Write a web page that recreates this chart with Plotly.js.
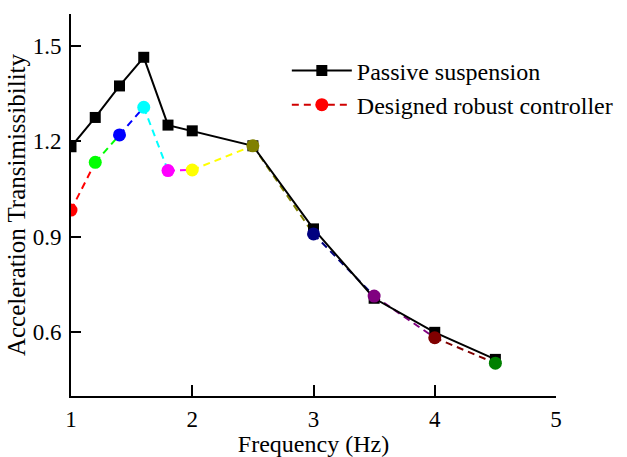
<!DOCTYPE html>
<html>
<head>
<meta charset="utf-8">
<script src="https://cdn.plot.ly/plotly-3.0.1.min.js"></script>
<style>
  html, body { margin: 0; padding: 0; background: #fff; }
  #chart { width: 627px; height: 457px; }
</style>
</head>
<body>
<div id="chart"></div>
<script>
// Excitation frequency (Hz)
const freq = [1, 1.2, 1.4, 1.6, 1.8, 2, 2.5, 3, 3.5, 4, 4.5];
// Acceleration transmissibility of the passive suspension
const passive = [1.183, 1.275, 1.374, 1.464, 1.251, 1.233, 1.186, 0.925, 0.707, 0.600, 0.515];
// Acceleration transmissibility with the designed robust controller
const controller = [0.984, 1.134, 1.220, 1.307, 1.108, 1.110, 1.186, 0.909, 0.714, 0.583, 0.503];
// Colour used for each controller point and the segment that starts there
const pointColors = ['#FF0000', '#00FF00', '#0000FF', '#00FFFF', '#FF00FF', '#FFFF00',
                     '#808000', '#000080', '#800080', '#800000', '#008000'];
const seriesNames = ['Passive suspension', 'Designed robust controller'];

const FONT = '"Liberation Serif", "Times New Roman", serif';
const traces = [];

// Dashed controller segments, each in the colour of its starting point
for (let i = 0; i < freq.length - 1; i++) {
  traces.push({
    x: [freq[i], freq[i + 1]],
    y: [controller[i], controller[i + 1]],
    mode: 'lines',
    line: { color: pointColors[i], width: 2, dash: '7px,5px' },
    showlegend: false,
    hoverinfo: 'skip'
  });
}

// Passive suspension: solid black line with square markers
traces.push({
  x: freq, y: passive,
  name: seriesNames[0],
  mode: 'lines+markers',
  line: { color: '#000000', width: 2 },
  marker: { symbol: 'square', size: 11, color: '#000000' }
});

// Controller markers on top
traces.push({
  x: freq, y: controller,
  mode: 'markers',
  marker: { symbol: 'circle', size: 13, color: pointColors },
  showlegend: false
});

// Legend entry for the controller series
traces.push({
  x: [null], y: [null],
  name: seriesNames[1],
  mode: 'lines+markers',
  line: { color: '#D00000', width: 2, dash: '7px,5px' },
  marker: { symbol: 'circle', size: 13, color: '#FF0000' }
});

const layout = {
  width: 627, height: 457,
  margin: { l: 71, r: 71, t: 14, b: 61, autoexpand: false },
  paper_bgcolor: '#ffffff',
  plot_bgcolor: '#ffffff',
  font: { family: FONT, size: 23, color: '#000000' },
  showlegend: true,
  legend: {
    x: 0.445, y: 0.91, xanchor: 'left', yanchor: 'top',
    bgcolor: 'rgba(0,0,0,0)',
    font: { family: FONT, size: 24, color: '#000000' },
    itemwidth: 60,
    tracegroupgap: 0
  },
  xaxis: {
    range: [1, 5],
    tickvals: [1, 2, 3, 4, 5],
    ticks: 'inside', ticklen: 11, tickwidth: 2, tickcolor: '#000',
    showline: true, linecolor: '#000', linewidth: 2,
    showgrid: false, zeroline: false,
    ticklabelstandoff: 1,
    tickfont: { family: FONT, size: 23 },
    title: { text: 'Frequency (Hz)', font: { family: FONT, size: 24 } },
    automargin: false
  },
  yaxis: {
    range: [0.4, 1.6],
    tickvals: [0.6, 0.9, 1.2, 1.5],
    ticktext: ['0.6', '0.9', '1.2', '1.5'],
    ticks: 'inside', ticklen: 10, tickwidth: 2, tickcolor: '#000',
    showline: true, linecolor: '#000', linewidth: 2,
    showgrid: false, zeroline: false,
    ticklabelstandoff: 3,
    tickfont: { family: FONT, size: 23 },
    title: { text: 'Acceleration Transimissibility', font: { family: FONT, size: 25 }, standoff: 0 },
    automargin: false
  }
};

Plotly.newPlot('chart', traces, layout, { displayModeBar: false, staticPlot: true });
</script>
</body>
</html>
